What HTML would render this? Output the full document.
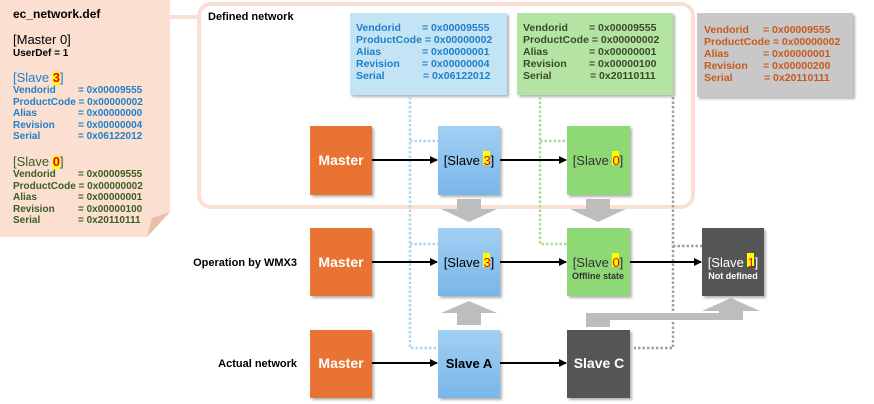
<!DOCTYPE html>
<html><head><meta charset="utf-8"><style>
body{margin:0;background:#fff}
svg{display:block}
text{font-family:"Liberation Sans",sans-serif;font-weight:bold}
</style></head><body>
<svg width="874" height="404" viewBox="0 0 874 404" xmlns="http://www.w3.org/2000/svg">
<defs>
<linearGradient id="bl" x1="0" y1="0" x2="0" y2="1"><stop offset="0" stop-color="#a2d0f4"/><stop offset="1" stop-color="#78b6e9"/></linearGradient>
<filter id="sh" x="-10%" y="-10%" width="130%" height="130%"><feDropShadow dx="2" dy="2" stdDeviation="1.2" flood-color="#000" flood-opacity="0.3"/></filter>
<marker id="ar" markerWidth="8" markerHeight="8" refX="7" refY="4" orient="auto" markerUnits="userSpaceOnUse"><path d="M0,0 L8,4 L0,8 Z" fill="#000"/></marker>
</defs>
<!-- note -->
<path d="M0,0 H170 V212 L147,237 H0 Z" fill="#fbe0d2"/>
<path d="M170,212 L147,237 L152,218 Z" fill="#e8bfa8"/>
<line x1="170" y1="17" x2="198" y2="17" stroke="#fbe0d2" stroke-width="4"/>
<!-- defined network rect -->
<rect x="199" y="4" width="494" height="203" rx="12" fill="none" stroke="#fbe0d2" stroke-width="4"/>
<text x="13" y="18" font-size="12">ec_network.def</text>
<text x="13" y="44" font-size="13" style="font-weight:normal">[Master 0]</text>
<text x="13" y="56" font-size="10">UserDef = 1</text>
<rect x="52.5" y="72" width="7.5" height="13" fill="#ff0"/>
<rect x="52.5" y="156" width="7.5" height="13" fill="#ff0"/>
<g font-size="10" fill="#1f7fc8">
<text x="13" y="82" font-size="13" style="font-weight:normal">[Slave <tspan fill="#e00" style="font-weight:bold">3</tspan>]</text>
<text x="13" y="93">Vendorid</text><text x="78" y="93">= 0x00009555</text>
<text x="13" y="105">ProductCode = 0x00000002</text>
<text x="13" y="116">Alias</text><text x="78" y="116">= 0x00000000</text>
<text x="13" y="128">Revision</text><text x="78" y="128">= 0x00000004</text>
<text x="13" y="139">Serial</text><text x="78" y="139">= 0x06122012</text>
</g>
<g font-size="10" fill="#3b5d1f">
<text x="13" y="166" font-size="13" style="font-weight:normal">[Slave <tspan fill="#e00" style="font-weight:bold">0</tspan>]</text>
<text x="13" y="177">Vendorid</text><text x="78" y="177">= 0x00009555</text>
<text x="13" y="189">ProductCode = 0x00000002</text>
<text x="13" y="200">Alias</text><text x="78" y="200">= 0x00000001</text>
<text x="13" y="212">Revision</text><text x="78" y="212">= 0x00000100</text>
<text x="13" y="223">Serial</text><text x="78" y="223">= 0x20110111</text>
</g>
<text x="208" y="20" font-size="11">Defined network</text>
<text x="297" y="266" font-size="11" text-anchor="end">Operation by WMX3</text>
<text x="297" y="367" font-size="11" text-anchor="end">Actual network</text>
<!-- info boxes -->
<rect x="350" y="13" width="157" height="82" fill="#c3e4f5" filter="url(#sh)"/>
<rect x="517" y="13" width="156" height="82" fill="#b4e4a2" filter="url(#sh)"/>
<rect x="697" y="13" width="156" height="84" fill="#c8c8c8" filter="url(#sh)"/>
<g font-size="10.5" fill="#1f7fc8">
<text x="356" y="31">Vendorid</text><text x="422" y="31">= 0x00009555</text>
<text x="356" y="43">ProductCode = 0x00000002</text>
<text x="356" y="55">Alias</text><text x="422" y="55">= 0x00000001</text>
<text x="356" y="67">Revision</text><text x="422" y="67">= 0x00000004</text>
<text x="356" y="79">Serial</text><text x="423" y="79">= 0x06122012</text>
</g>
<g font-size="10.5" fill="#3b4a2c">
<text x="523" y="31">Vendorid</text><text x="589" y="31">= 0x00009555</text>
<text x="523" y="43">ProductCode = 0x00000002</text>
<text x="523" y="55">Alias</text><text x="589" y="55">= 0x00000001</text>
<text x="523" y="67">Revision</text><text x="589" y="67">= 0x00000100</text>
<text x="523" y="79">Serial</text><text x="590" y="79">= 0x20110111</text>
</g>
<g font-size="10.5" fill="#c85a1e">
<text x="704" y="33">Vendorid</text><text x="763" y="33">= 0x00009555</text>
<text x="704" y="45">ProductCode = 0x00000002</text>
<text x="704" y="57">Alias</text><text x="763" y="57">= 0x00000001</text>
<text x="704" y="69">Revision</text><text x="763" y="69">= 0x00000200</text>
<text x="704" y="81">Serial</text><text x="764" y="81">= 0x20110111</text>
</g>
<!-- dotted lines -->
<g fill="none" stroke-width="2.5" stroke-dasharray="2.5 2">
<path d="M410,97 V348 H438 M410,141 H438 M410,244 H438" stroke="#a9d6f2"/>
<path d="M540,97 V244 H567 M540,141 H567" stroke="#a6e08e"/>
<path d="M673,97 V348 H634 M673,246 H702" stroke="#a0a0a0"/>
</g>
<!-- grey block arrows -->
<g fill="#bdbdbd">
<path d="M457,199 H481 V209 H497 L469,222 L441,209 H457 Z"/>
<path d="M586,199 H610 V209 H626 L598,222 L570,209 H586 Z"/>
<path d="M457,325 H481 V313 H497 L469,301 L441,313 H457 Z"/>
<path d="M586,327 V313 H719 V311 H702 L731,298 L760,311 H743 V320 H610 V327 Z"/>
</g>
<!-- boxes -->
<g filter="url(#sh)">
<rect x="310" y="126" width="62" height="69" fill="#e87331"/>
<rect x="310" y="228" width="62" height="68" fill="#e87331"/>
<rect x="310" y="330" width="62" height="68" fill="#e87331"/>
<rect x="438" y="126" width="62" height="69" fill="url(#bl)"/>
<rect x="438" y="228" width="62" height="68" fill="url(#bl)"/>
<rect x="438" y="330" width="62" height="68" fill="url(#bl)"/>
<rect x="567" y="126" width="63" height="69" fill="#8ed876"/>
<rect x="567" y="228" width="63" height="68" fill="#8ed876"/>
<rect x="567" y="330" width="63" height="68" fill="#555"/>
<rect x="702" y="228" width="62" height="68" fill="#555"/>
</g>
<!-- arrows -->
<g stroke="#000" stroke-width="2" marker-end="url(#ar)">
<line x1="372" y1="160" x2="437" y2="160"/>
<line x1="500" y1="160" x2="566" y2="160"/>
<line x1="372" y1="262" x2="437" y2="262"/>
<line x1="500" y1="262" x2="566" y2="262"/>
<line x1="630" y1="262" x2="701" y2="262"/>
<line x1="372" y1="363" x2="437" y2="363"/>
<line x1="500" y1="363" x2="566" y2="363"/>
</g>
<!-- labels -->
<g font-size="14" fill="#fff" text-anchor="middle">
<text x="341" y="165">Master</text><text x="341" y="267">Master</text><text x="341" y="368">Master</text>
<text x="599" y="368">Slave C</text>
</g>
<rect x="483" y="151" width="7" height="14" fill="#ff0"/>
<rect x="483" y="253" width="7" height="14" fill="#ff0"/>
<rect x="612" y="151" width="7" height="14" fill="#ff0"/>
<rect x="612" y="253" width="7" height="14" fill="#ff0"/>
<rect x="747" y="253" width="7" height="14" fill="#ff0"/>
<g font-size="13" text-anchor="middle">
<text x="469" y="165" style="font-weight:normal">[Slave <tspan fill="#e00">3</tspan>]</text>
<text x="469" y="267" style="font-weight:normal">[Slave <tspan fill="#e00">3</tspan>]</text>
<text x="598" y="165" fill="#333" style="font-weight:normal">[Slave <tspan fill="#e00">0</tspan>]</text>
<text x="598" y="267" fill="#333" style="font-weight:normal">[Slave <tspan fill="#e00">0</tspan>]</text>
<text x="733" y="267" fill="#fff" style="font-weight:normal">[Slave <tspan fill="#e00">1</tspan>]</text>
</g>
<text x="469" y="368" font-size="13" text-anchor="middle">Slave A</text>
<text x="598" y="279" font-size="9" text-anchor="middle" fill="#333">Offline state</text>
<text x="733" y="279" font-size="9" text-anchor="middle" fill="#fff">Not defined</text>
</svg>
</body></html>
